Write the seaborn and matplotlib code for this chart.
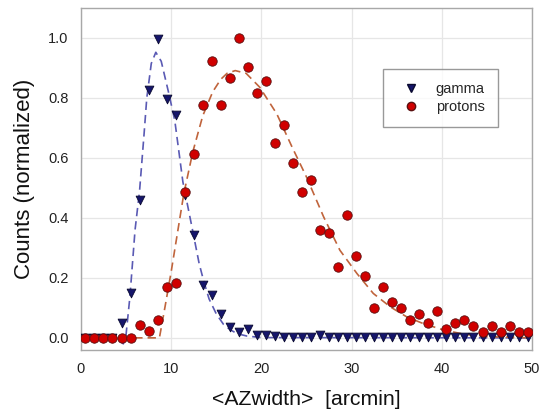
import numpy as np
import pandas as pd
import seaborn as sns
import matplotlib
matplotlib.use("Agg")
import matplotlib.pyplot as plt
from matplotlib.lines import Line2D

# bin centres of the <AZwidth> histogram [arcmin]
az_bins = [0.5, 1.5, 2.5, 3.5, 4.5, 5.5, 6.5, 7.5, 8.5, 9.5,
           10.5, 11.5, 12.5, 13.5, 14.5, 15.5, 16.5, 17.5, 18.5, 19.5,
           20.5, 21.5, 22.5, 23.5, 24.5, 25.5, 26.5, 27.5, 28.5, 29.5,
           30.5, 31.5, 32.5, 33.5, 34.5, 35.5, 36.5, 37.5, 38.5, 39.5,
           40.5, 41.5, 42.5, 43.5, 44.5, 45.5, 46.5, 47.5, 48.5, 49.5]

gamma_counts = [0.0, 0.0, 0.0, 0.0, 0.048, 0.15, 0.46, 0.827, 0.997, 0.797,
                0.744, 0.477, 0.344, 0.175, 0.142, 0.078, 0.037, 0.02, 0.031, 0.011,
                0.011, 0.005, 0.003, 0.003, 0.003, 0.003, 0.011, 0.003, 0.003, 0.003,
                0.003, 0.003, 0.003, 0.003, 0.003, 0.003, 0.003, 0.003, 0.003, 0.003,
                0.003, 0.003, 0.003, 0.003, 0.003, 0.003, 0.003, 0.003, 0.003, 0.003]

proton_counts = [0.0, 0.0, 0.0, 0.0, 0.0, 0.0, 0.042, 0.022, 0.061, 0.168,
                 0.184, 0.486, 0.614, 0.777, 0.923, 0.777, 0.865, 1.0, 0.902, 0.817,
                 0.855, 0.651, 0.709, 0.584, 0.486, 0.525, 0.36, 0.351, 0.235, 0.408,
                 0.273, 0.205, 0.099, 0.168, 0.119, 0.099, 0.06, 0.079, 0.05, 0.089,
                 0.031, 0.05, 0.06, 0.041, 0.021, 0.041, 0.021, 0.041, 0.021, 0.021]

# fitted curves
gamma_fit_x = [0.0, 4.0, 4.4, 4.7, 5.0, 5.43, 6.0, 6.5, 7.0, 7.3, 7.8, 8.3, 8.9,
               9.7, 10.4, 11.3, 12.3, 13.1, 13.6, 14.2, 15.0, 15.8, 16.5, 17.3,
               18.4, 20.0, 50.0]
gamma_fit_y = [0.0, 0.0, -0.012, -0.02, 0.01, 0.137, 0.36, 0.49, 0.68, 0.80, 0.915,
               0.952, 0.922, 0.82, 0.725, 0.52, 0.37, 0.248, 0.19, 0.13, 0.08, 0.045,
               0.028, 0.014, 0.006, 0.001, 0.0]

proton_fit_x = [0.0, 8.7, 9.3, 10.0, 10.7, 11.4, 12.4, 13.5, 14.6, 15.5, 16.2, 17.1,
                18.3, 19.8, 21.7, 23.4, 25.0, 26.9, 28.7, 30.6, 32.4, 34.3, 36.1,
                37.9, 40.2, 42.5, 45.0, 50.0]
proton_fit_y = [0.0, 0.0, 0.1, 0.22, 0.35, 0.48, 0.62, 0.74, 0.82, 0.862, 0.882, 0.891,
                0.882, 0.836, 0.747, 0.636, 0.536, 0.403, 0.292, 0.214, 0.148, 0.103,
                0.07, 0.048, 0.026, 0.012, 0.004, 0.0]

sns.set_theme(style="white")
plt.rcParams['font.family'] = ['Liberation Sans', 'DejaVu Sans']

df_gamma = pd.DataFrame({'az': az_bins, 'counts': gamma_counts})
df_proton = pd.DataFrame({'az': az_bins, 'counts': proton_counts})
df_gfit = pd.DataFrame({'az': gamma_fit_x, 'counts': gamma_fit_y})
df_pfit = pd.DataFrame({'az': proton_fit_x, 'counts': proton_fit_y})

fig, ax = plt.subplots(figsize=(5.43, 4.16), dpi=100)
fig.subplots_adjust(left=0.149, right=0.98, top=0.981, bottom=0.159)

gamma_col = '#15156b'
proton_col = '#d00000'

sns.lineplot(data=df_gfit, x='az', y='counts', ax=ax, color='#5a5ab4',
             linestyle=(0, (5, 3)), linewidth=1.2, sort=False, zorder=2)
sns.lineplot(data=df_pfit, x='az', y='counts', ax=ax, color='#c0643c',
             linestyle=(0, (5, 3)), linewidth=1.2, sort=False, zorder=2)

sns.scatterplot(data=df_gamma, x='az', y='counts', ax=ax, marker='v', s=40,
                color=gamma_col, edgecolor='#0a0a30', linewidth=0.6, zorder=3)
sns.scatterplot(data=df_proton, x='az', y='counts', ax=ax, marker='o', s=46,
                color=proton_col, edgecolor='#5a1010', linewidth=0.6, zorder=4)

ax.set_xlim(0, 50)
ax.set_ylim(-0.04, 1.1)
ax.set_xticks([0, 10, 20, 30, 40, 50])
ax.set_yticks([0.0, 0.2, 0.4, 0.6, 0.8, 1.0])
ax.set_yticklabels(['0.0', '0.2', '0.4', '0.6', '0.8', '1.0'])
ax.grid(True, color='#e6e6e6', linewidth=0.9)
ax.set_axisbelow(True)
for sp in ax.spines.values():
    sp.set_color('#a8a8a8')
    sp.set_linewidth(1.0)
ax.tick_params(axis='both', direction='out', length=4, width=1, color='#a0a0a0',
               labelsize=10.5, labelcolor='#222222', pad=5)

ax.set_xlabel('<AZwidth>  [arcmin]', fontsize=15.3, color='#111111', labelpad=10)
ax.set_ylabel('Counts (normalized)', fontsize=16, color='#111111', labelpad=9)

handles = [Line2D([], [], marker='v', linestyle='none', markersize=6,
                  markerfacecolor=gamma_col, markeredgecolor='#0a0a30'),
           Line2D([], [], marker='o', linestyle='none', markersize=6,
                  markerfacecolor=proton_col, markeredgecolor='#5a1010')]
leg = ax.legend(handles, ['gamma', 'protons'], loc='upper left',
                bbox_to_anchor=(0.67, 0.822), frameon=True, fancybox=False,
                fontsize=10.5, handletextpad=0.7, borderpad=0.9,
                labelspacing=0.3, handlelength=2.0, borderaxespad=0)
leg.get_frame().set_edgecolor('#808080')
leg.get_frame().set_linewidth(1.0)

fig.savefig('out.png', dpi=100)
